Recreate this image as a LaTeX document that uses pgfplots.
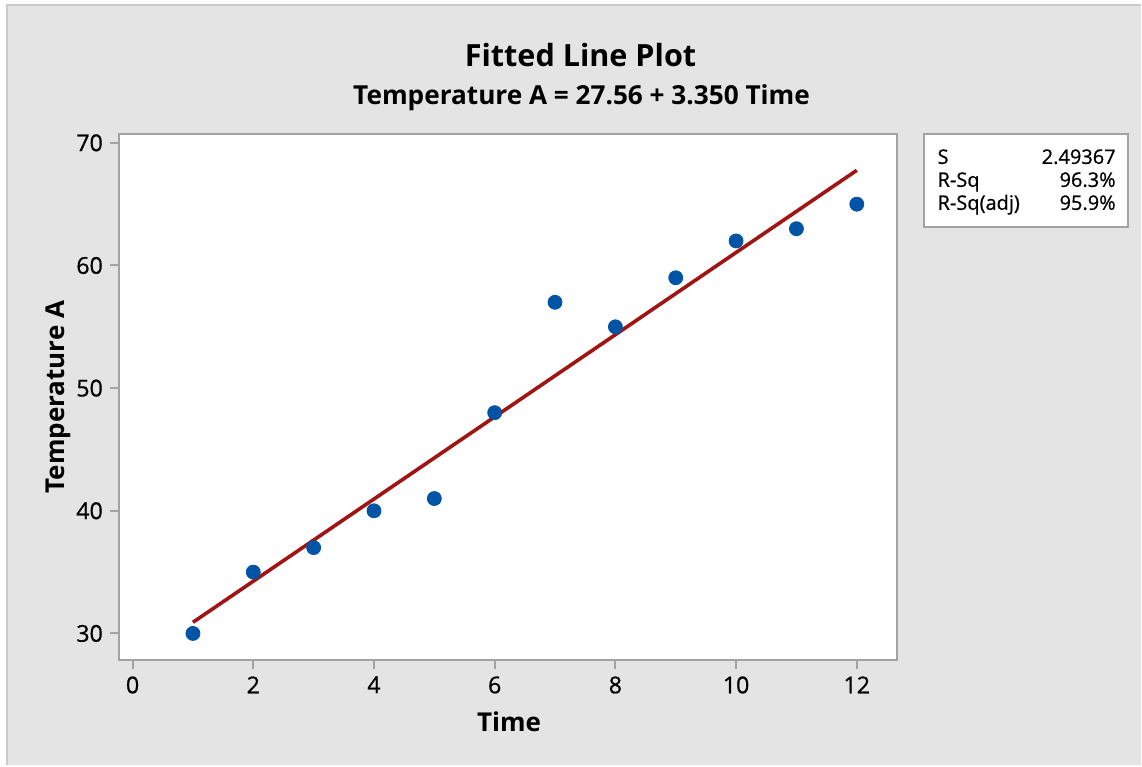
\documentclass[border=0pt]{standalone}
\usepackage{fontspec}
\setmainfont{Open Sans}
\newfontfamily\medfont[FakeBold=0.8]{Open Sans}
\usepackage{pgfplots}
\pgfplotsset{compat=1.18}

\definecolor{panelbg}{HTML}{E4E4E4}
\definecolor{panelln}{HTML}{CACACA}
\definecolor{axisgray}{HTML}{A3A3A3}
\definecolor{ptblue}{HTML}{0054A6}
\definecolor{fitred}{HTML}{A01414}

\begin{document}
\begin{tikzpicture}
% page and grey panel (1 unit = 1 px of the reference)
\begin{scope}[x=0.5pt,y=0.5pt]
\fill[white] (0,0) rectangle (1142,766);
\fill[panelbg] (7,0) rectangle (1142,761);
\draw[panelln, line width=1pt] (7,0) -- (7,761) -- (1142,761);
\end{scope}

\begin{axis}[
  at={(59.5pt,52.5pt)}, anchor=south west,
  scale only axis,
  width=389.5pt, height=263.5pt,
  xmin=-0.227, xmax=12.67,
  ymin=27.8, ymax=70.73,
  xtick={0,2,...,12},
  ytick={30,40,...,70},
  tick pos=left,
  tick align=outside,
  major tick length=4.5pt,
  axis line style={axisgray, line width=1pt},
  every tick/.style={axisgray, line width=1pt},
  axis background/.style={fill=white},
  /pgf/number format/assume math mode=true,
  tick label style={font=\medfont\fontsize{11.6}{13}\selectfont},
  clip=false,
]
  \addplot[fitred, line width=1.8pt] coordinates {
    (1,30.91) (12,67.76)
  };
  \addplot[only marks, mark=*, mark size=3.5pt, ptblue, mark options={fill=ptblue}] coordinates {
    (1,30) (2,35) (3,37) (4,40) (5,41) (6,48)
    (7,57) (8,55) (9,59) (10,62) (11,63) (12,65)
  };
\end{axis}

\begin{scope}[x=0.5pt,y=0.5pt]
% titles and axis labels
\node[anchor=base, inner sep=0, font=\bfseries\fontsize{15.3}{18}\selectfont] at (581,699.3) {Fitted Line Plot};
\node[anchor=base, inner sep=0, font=\bfseries\fontsize{13.1}{15}\selectfont] at (582,661) {Temperature A = 27.56 + 3.350 Time};
\node[anchor=base, inner sep=0, font=\bfseries\fontsize{13}{16}\selectfont] at (509.5,34.3) {Time};
\node[anchor=base, inner sep=0, rotate=90, font=\bfseries\fontsize{13}{16}\selectfont] at (65,368.5) {Temperature A};

% statistics box
\draw[axisgray, fill=white, line width=0.75pt] (925,539) rectangle (1129,632);
\begin{scope}[every node/.style={inner sep=0, font=\medfont\fontsize{10}{12}\selectfont}]
  \node[anchor=base west] at (938,602) {S};
  \node[anchor=base east] at (1117,602) {2.49367};
  \node[anchor=base west] at (938,579) {R-Sq};
  \node[anchor=base east] at (1117,579) {96.3\%};
  \node[anchor=base west] at (938,556) {R-Sq(adj)};
  \node[anchor=base east] at (1117,556) {95.9\%};
\end{scope}
\end{scope}
\end{tikzpicture}
\end{document}
